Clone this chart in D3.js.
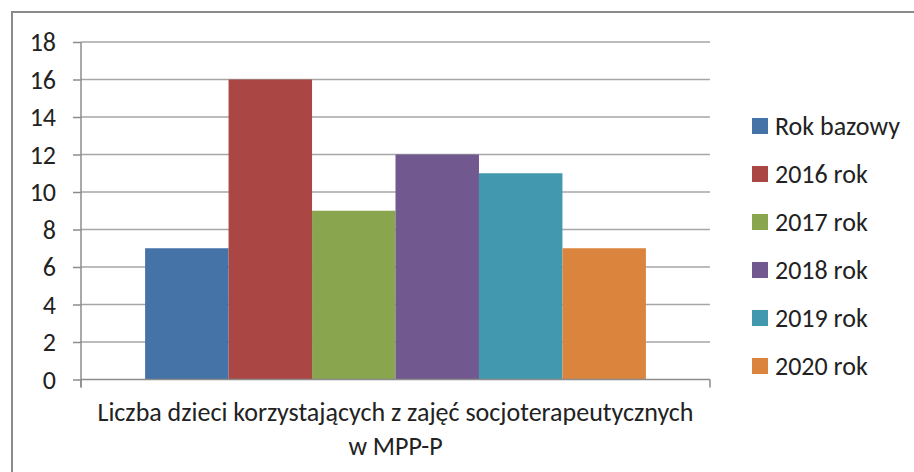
<!DOCTYPE html>
<html>
<head>
<meta charset="utf-8">
<script src="https://cdn.jsdelivr.net/npm/d3@7"></script>
<style>
  body { margin: 0; background: #fff; }
  svg text { font-family: Carlito, Calibri, Lato, sans-serif; fill: #222; }
</style>
</head>
<body>
<div class="chart"></div>
<script>
var svgWidth = 914;
var svgHeight = 472;

var category = "Liczba dzieci korzystających z zajęć socjoterapeutycznych";
var categoryLine2 = "w MPP-P";
var seriesNames = ["Rok bazowy", "2016 rok", "2017 rok", "2018 rok", "2019 rok", "2020 rok"];
var seriesValues = [7, 16, 9, 12, 11, 7];
var seriesColors = ["#4572A7", "#AA4643", "#89A54E", "#71588F", "#4198AF", "#DB843D"];
var yTicks = [0, 2, 4, 6, 8, 10, 12, 14, 16, 18];

var margin = { top: 42, left: 81 };
var width = 629;
var height = 337.5;
var fontSize = "26px";

var svg = d3.select(".chart")
  .append("svg")
  .attr("width", svgWidth)
  .attr("height", svgHeight);

// outer frame (left and top edges visible)
svg.append("path")
  .attr("d", "M12,472 V12 H914")
  .attr("fill", "none")
  .attr("stroke", "#8a8a8a")
  .attr("stroke-width", 2);

var chartGroup = svg.append("g")
  .attr("transform", `translate(${margin.left}, ${margin.top})`);

var x0 = d3.scaleBand()
  .domain([category])
  .range([0, width])
  .paddingInner(0)
  .paddingOuter(0.128);

var x1 = d3.scaleBand()
  .domain(seriesNames)
  .range([0, x0.bandwidth()]);

var yLinearScale = d3.scaleLinear()
  .domain([0, 18])
  .range([height, 0]);

// gridlines
chartGroup.append("g")
  .selectAll("line")
  .data(yTicks.filter(d => d > 0))
  .enter()
  .append("line")
  .attr("x1", 0)
  .attr("x2", width)
  .attr("y1", d => yLinearScale(d))
  .attr("y2", d => yLinearScale(d))
  .attr("stroke", "#a6a6a6")
  .attr("stroke-width", 1.5);

// bars
chartGroup.append("g")
  .selectAll("rect")
  .data(seriesValues)
  .enter()
  .append("rect")
  .attr("x", (d, i) => x0(category) + x1(seriesNames[i]))
  .attr("y", d => yLinearScale(d))
  .attr("width", x1.bandwidth())
  .attr("height", d => height - yLinearScale(d))
  .attr("fill", (d, i) => seriesColors[i]);

// y axis
var leftAxis = d3.axisLeft(yLinearScale)
  .tickValues(yTicks)
  .tickSize(8)
  .tickPadding(17);

var yAxisG = chartGroup.append("g")
  .classed("y-axis", true)
  .call(leftAxis);
yAxisG.select(".domain").attr("stroke", "#8c8c8c").attr("stroke-width", 1.5)
  .attr("d", `M0,${height + 8}V0`);
yAxisG.selectAll(".tick line").attr("stroke", "#8c8c8c").attr("stroke-width", 1.5);
yAxisG.selectAll(".tick text").style("font-size", fontSize).attr("fill", "#222").attr("dy", "0.34em");

// x axis
var xAxisG = chartGroup.append("g")
  .attr("transform", `translate(0, ${height})`);
xAxisG.append("line")
  .attr("x1", 0).attr("x2", width)
  .attr("stroke", "#8c8c8c").attr("stroke-width", 1.5);
xAxisG.selectAll("line.tick")
  .data([0, width])
  .enter()
  .append("line")
  .attr("class", "tick")
  .attr("x1", d => d).attr("x2", d => d)
  .attr("y1", 0).attr("y2", 8)
  .attr("stroke", "#8c8c8c").attr("stroke-width", 1.5);

var cx = x0(category) + x0.bandwidth() / 2;
var titleText = xAxisG.append("text")
  .attr("text-anchor", "middle")
  .style("font-size", fontSize);
titleText.append("tspan").attr("x", cx).attr("y", 41).text(category);
titleText.append("tspan").attr("x", cx).attr("y", 75).text(categoryLine2);

// legend
var legend = svg.append("g")
  .attr("transform", "translate(752, 126)");
var items = legend.selectAll("g")
  .data(seriesNames)
  .enter()
  .append("g")
  .attr("transform", (d, i) => `translate(0, ${i * 48})`);
items.append("rect")
  .attr("x", 0).attr("y", -8)
  .attr("width", 16).attr("height", 16)
  .attr("fill", (d, i) => seriesColors[i]);
items.append("text")
  .attr("x", 23)
  .attr("dy", "0.35em")
  .style("font-size", fontSize)
  .text(d => d);
</script>
</body>
</html>
